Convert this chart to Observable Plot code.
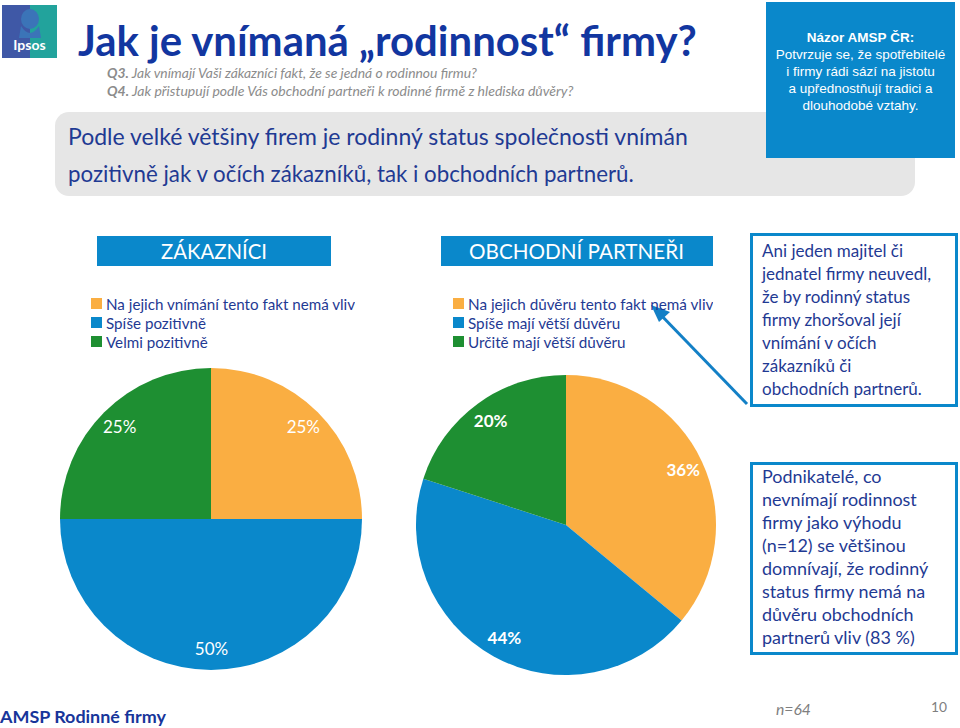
<!DOCTYPE html>
<html lang="cs">
<head>
<meta charset="utf-8">
<script src="https://cdn.jsdelivr.net/npm/d3@7"></script>
<script src="https://cdn.jsdelivr.net/npm/@observablehq/plot@0.6"></script>
<style>
html,body{margin:0;padding:0;}
body{width:960px;height:728px;position:relative;overflow:hidden;background:#fff;font-family:Lato,"Open Sans",sans-serif;}
.a{position:absolute;}
#deco{left:0;top:0;}
div.lgz-swatches,div.lgp-swatches{font-family:Lato,sans-serif !important;font-size:15px;color:#1F3A93 !important;margin:0 !important;width:320px;}
.lgz-swatch,.lgp-swatch{height:19px;padding-bottom:0 !important;}
.lgz-swatch svg,.lgp-swatch svg{margin-right:4px !important;}
</style>
</head>
<body>
<svg id="deco" class="a" width="960" height="728" viewBox="0 0 960 728" font-family="Lato, 'Open Sans', sans-serif">
  <!-- Ipsos logo -->
  <rect x="2" y="5" width="55" height="53" fill="#3F58A6"/>
  <rect x="30" y="5" width="27" height="53" fill="#22A39C"/>
  <ellipse cx="30" cy="19" rx="9" ry="10" fill="#3B74B8"/>
  <path d="M21 26 Q30 40 39 26 L41 38 L19 38 Z" fill="#3B74B8"/>
  <text x="29.5" y="50" font-size="14" font-weight="700" fill="#fff" text-anchor="middle">Ipsos</text>

  <!-- title -->
  <text class="fit" data-w="619" x="78" y="56" font-size="37" font-weight="700" fill="#1236A0">Jak je vnímaná „rodinnost“ firmy?</text>
  <text class="fit" data-w="370" x="107" y="78" font-size="13" font-style="italic" fill="#8C8C8C"><tspan font-weight="700">Q3.</tspan> Jak vnímají Vaši zákazníci fakt, že se jedná o rodinnou firmu?</text>
  <text class="fit" data-w="467" x="107" y="96" font-size="13" font-style="italic" fill="#8C8C8C"><tspan font-weight="700">Q4.</tspan> Jak přistupují podle Vás obchodní partneři k rodinné firmě z hlediska důvěry?</text>

  <!-- grey message box -->
  <rect x="55" y="112" width="860" height="84" rx="14" fill="#E6E6E6"/>
  <text class="fit" data-w="620" x="68" y="145" font-size="21" fill="#1F3A93">Podle velké většiny firem je rodinný status společnosti vnímán</text>
  <text class="fit" data-w="566" x="68" y="182" font-size="21" fill="#1F3A93">pozitivně jak v očích zákazníků, tak i obchodních partnerů.</text>

  <!-- AMSP opinion box -->
  <rect x="766" y="2" width="189" height="156" fill="#0A88CB"/>
  <g font-family="'Liberation Sans', Arial, sans-serif" font-size="13.5" fill="#fff" text-anchor="middle">
    <text x="860.5" y="42" font-weight="700">Názor AMSP ČR:</text>
    <text x="860.5" y="59">Potvrzuje se, že spotřebitelé</text>
    <text x="860.5" y="76">i firmy rádi sází na jistotu</text>
    <text x="860.5" y="93">a upřednostňují tradici a</text>
    <text x="860.5" y="110">dlouhodobé vztahy.</text>
  </g>

  <!-- section headers -->
  <rect x="97" y="236" width="234" height="30" fill="#0A88CB"/>
  <rect x="441" y="236" width="272" height="30" fill="#0A88CB"/>
  <text class="fit" data-w="106" x="161" y="259" font-size="19" fill="#fff">ZÁKAZNÍCI</text>
  <text class="fit" data-w="215" x="469" y="259" font-size="19" fill="#fff">OBCHODNÍ PARTNEŘI</text>

  <!-- note boxes -->
  <rect x="751.5" y="234.5" width="205" height="171" fill="#fff" stroke="#0A88CB" stroke-width="3"/>
  <rect x="751.5" y="463.5" width="205" height="190" fill="#fff" stroke="#0A88CB" stroke-width="3"/>
  <g class="fitg" data-w="169" data-ref="1" font-size="16" fill="#1F3A93">
    <text x="762" y="257">Ani jeden majitel či</text>
    <text x="762" y="280">jednatel firmy neuvedl,</text>
    <text x="762" y="303">že by rodinný status</text>
    <text x="762" y="326">firmy zhoršoval její</text>
    <text x="762" y="349">vnímání v očích</text>
    <text x="762" y="372">zákazníků či</text>
    <text x="762" y="395">obchodních partnerů.</text>
  </g>
  <g class="fitg" data-w="155" data-ref="1" font-size="16" fill="#1F3A93">
    <text x="762" y="483">Podnikatelé, co</text>
    <text x="762" y="506">nevnímají rodinnost</text>
    <text x="762" y="529">firmy jako výhodu</text>
    <text x="762" y="552">(n=12) se většinou</text>
    <text x="762" y="575">domnívají, že rodinný</text>
    <text x="762" y="598">status firmy nemá na</text>
    <text x="762" y="621">důvěru obchodních</text>
    <text x="762" y="644">partnerů vliv (83 %)</text>
  </g>

  <!-- arrow -->
  <line x1="747" y1="404" x2="658" y2="312" stroke="#1380C6" stroke-width="3"/>
  <path d="M651 305 L670 312 L659 322 Z" fill="#1380C6"/>

  <!-- footer -->
  <text class="fit" data-w="166" x="0" y="723" font-size="17" font-weight="700" fill="#17359A">AMSP Rodinné firmy</text>
  <text class="fit" data-w="35" x="776" y="715" font-size="14" font-style="italic" fill="#7F7F7F">n=64</text>
  <text class="fit" data-w="16" x="931" y="712" font-size="14" fill="#7F7F7F">10</text>
</svg>

<div id="legZ" class="a" style="left:91px;top:294px;"></div>
<div id="legP" class="a" style="left:453px;top:294px;"></div>
<div id="pieZ" class="a" style="left:51px;top:359px;"></div>
<div id="pieP" class="a" style="left:406px;top:365px;"></div>

<script>
// ---- data ----
const zakCategories = ["Na jejich vnímání tento fakt nemá vliv", "Spíše pozitivně", "Velmi pozitivně"];
const zakValues = [25, 50, 25];
const parCategories = ["Na jejich důvěru tento fakt nemá vliv", "Spíše mají větší důvěru", "Určitě mají větší důvěru"];
const parValues = [36, 44, 20];
const sliceColors = ["#FAAE42", "#0A88CB", "#1E8F32"];

// ---- fit decorative text widths ----
document.querySelectorAll("#deco text.fit").forEach(t => {
  const fs = parseFloat(t.getAttribute("font-size"));
  const w = t.getComputedTextLength();
  t.setAttribute("font-size", (fs * (+t.dataset.w) / w).toFixed(2));
});
document.querySelectorAll("#deco g.fitg").forEach(g => {
  const fs = parseFloat(g.getAttribute("font-size"));
  const ref = g.querySelectorAll("text")[+g.dataset.ref];
  const w = ref.getComputedTextLength();
  g.setAttribute("font-size", (fs * (+g.dataset.w) / w).toFixed(2));
});

function measure(text, size) {
  const c = measure.c || (measure.c = document.createElement("canvas").getContext("2d"));
  c.font = `${size}px Lato`;
  return c.measureText(text).width;
}

function legend(categories, className, target) {
  const el = Plot.legend({
    color: {domain: categories, range: sliceColors},
    legend: "swatches",
    columns: 1,
    swatchSize: 11,
    className
  });
  const fs = 15 * target / measure(categories[0], 15);
  el.style.fontSize = fs.toFixed(2) + "px";
  return el;
}

function pie(categories, values, {size, radius, labelRadius, labelWeight}) {
  const color = Plot.scale({color: {domain: categories, range: sliceColors}});
  const arcs = d3.pie().sort(null).value(d => d.value)(categories.map((c, i) => ({category: c, value: values[i]})));
  const slices = arcs.map(a => ({category: a.data.category, value: a.data.value, arc: a, mid: (a.startAngle + a.endAngle) / 2}));
  const ext = size / 2 / radius;
  return Plot.plot({
    width: size, height: size, margin: 0,
    x: {domain: [-ext, ext], axis: null},
    y: {domain: [-ext, ext], axis: null},
    style: {background: "transparent", overflow: "visible"},
    marks: [
      (index, scales) => {
        const cx = scales.x(0), cy = scales.y(0), r = scales.x(1) - cx;
        const arc = d3.arc().innerRadius(0).outerRadius(r);
        const g = d3.create("svg:g").attr("transform", `translate(${cx},${cy})`);
        g.selectAll("path").data(slices).join("path")
          .attr("d", d => arc(d.arc))
          .attr("fill", d => color.apply(d.category));
        return g.node();
      },
      Plot.text(slices, {
        x: d => Math.sin(d.mid) * labelRadius,
        y: d => Math.cos(d.mid) * labelRadius,
        text: d => `${d.value}%`,
        fill: "white",
        fontSize: 17,
        fontWeight: labelWeight,
        fontFamily: "Lato, sans-serif"
      })
    ]
  });
}

document.getElementById("legZ").append(legend(zakCategories, "lgz", 250));
document.getElementById("legP").append(legend(parCategories, "lgp", 246));
document.getElementById("pieZ").append(pie(zakCategories, zakValues, {size: 320, radius: 151, labelRadius: 0.86, labelWeight: "normal"}));
document.getElementById("pieP").append(pie(parCategories, parValues, {size: 320, radius: 150, labelRadius: 0.86, labelWeight: "bold"}));
</script>
</body>
</html>
